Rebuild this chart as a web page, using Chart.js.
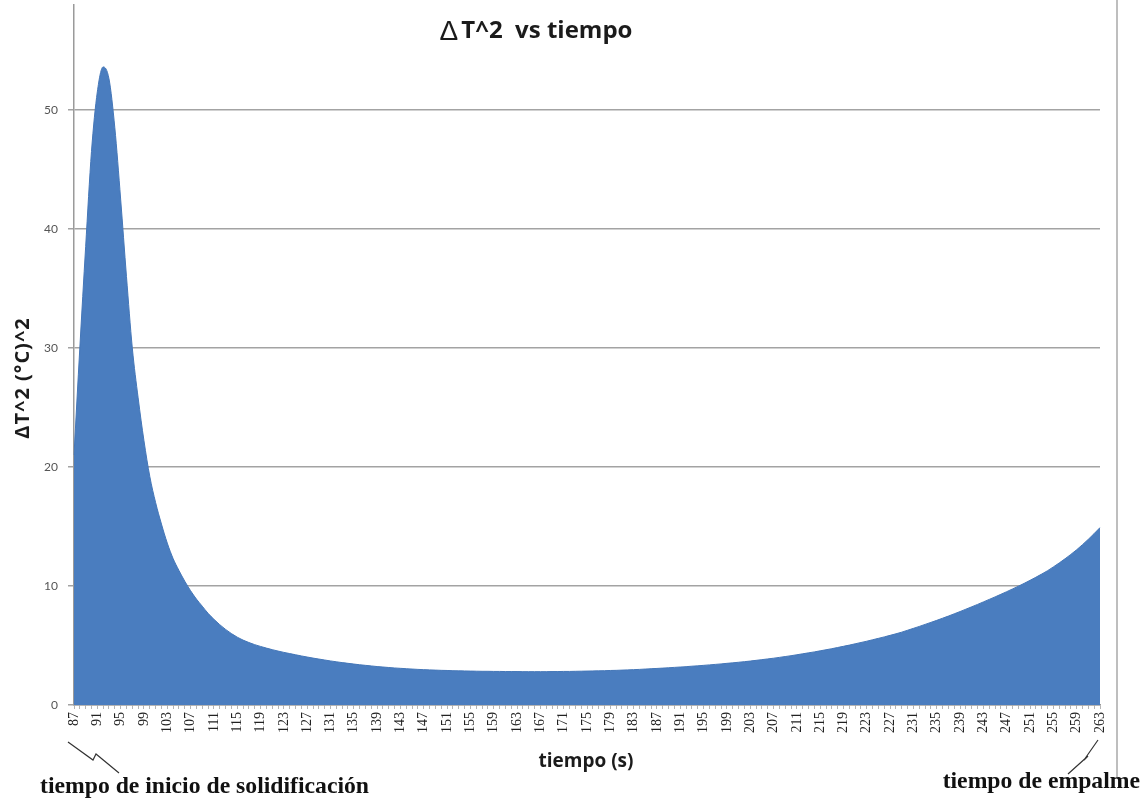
<!DOCTYPE html>
<html lang="es">
<head>
<meta charset="utf-8">
<title>ΔT^2 vs tiempo</title>
<script src="https://cdn.jsdelivr.net/npm/chart.js@4.4.1/dist/chart.umd.min.js"></script>
<style>
  html, body { margin: 0; padding: 0; background: #fff; }
  canvas { display: block; }
</style>
</head>
<body>
<canvas id="grafico" width="1143" height="801"></canvas>
<script>
// tiempo (s), un punto por segundo
const tiempos = [
  87, 88, 89, 90, 91, 92, 93, 94, 95, 96,
  97, 98, 99, 100, 101, 102, 103, 104, 105, 106,
  107, 108, 109, 110, 111, 112, 113, 114, 115, 116,
  117, 118, 119, 120, 121, 122, 123, 124, 125, 126,
  127, 128, 129, 130, 131, 132, 133, 134, 135, 136,
  137, 138, 139, 140, 141, 142, 143, 144, 145, 146,
  147, 148, 149, 150, 151, 152, 153, 154, 155, 156,
  157, 158, 159, 160, 161, 162, 163, 164, 165, 166,
  167, 168, 169, 170, 171, 172, 173, 174, 175, 176,
  177, 178, 179, 180, 181, 182, 183, 184, 185, 186,
  187, 188, 189, 190, 191, 192, 193, 194, 195, 196,
  197, 198, 199, 200, 201, 202, 203, 204, 205, 206,
  207, 208, 209, 210, 211, 212, 213, 214, 215, 216,
  217, 218, 219, 220, 221, 222, 223, 224, 225, 226,
  227, 228, 229, 230, 231, 232, 233, 234, 235, 236,
  237, 238, 239, 240, 241, 242, 243, 244, 245, 246,
  247, 248, 249, 250, 251, 252, 253, 254, 255, 256,
  257, 258, 259, 260, 261, 262, 263
];

// ΔT^2 en (°C)^2
const deltaT2 = [
  21.0, 30.0, 38.5, 46.5, 51.5, 53.6, 52.6, 48.5, 42.5, 36.0,
  30.0, 25.8, 22.2, 19.2, 17.0, 15.2, 13.6, 12.3, 11.3, 10.4,
  9.6, 8.9, 8.3, 7.7, 7.2, 6.75, 6.35, 6.0, 5.7, 5.45,
  5.25, 5.07, 4.92, 4.78, 4.65, 4.53, 4.42, 4.32, 4.22, 4.12,
  4.03, 3.94, 3.86, 3.78, 3.70, 3.63, 3.56, 3.50, 3.44, 3.38,
  3.33, 3.28, 3.23, 3.19, 3.15, 3.11, 3.08, 3.05, 3.02, 2.99,
  2.97, 2.95, 2.93, 2.91, 2.90, 2.88, 2.87, 2.86, 2.85, 2.84,
  2.83, 2.83, 2.82, 2.82, 2.81, 2.81, 2.81, 2.80, 2.80, 2.80,
  2.80, 2.80, 2.81, 2.81, 2.82, 2.82, 2.83, 2.84, 2.85, 2.86,
  2.87, 2.88, 2.90, 2.91, 2.93, 2.95, 2.97, 2.99, 3.02, 3.05,
  3.07, 3.10, 3.13, 3.16, 3.19, 3.22, 3.26, 3.29, 3.33, 3.37,
  3.41, 3.45, 3.50, 3.54, 3.59, 3.64, 3.69, 3.75, 3.81, 3.87,
  3.93, 4.00, 4.07, 4.14, 4.22, 4.30, 4.38, 4.46, 4.55, 4.64,
  4.73, 4.83, 4.93, 5.03, 5.14, 5.25, 5.36, 5.48, 5.60, 5.72,
  5.85, 5.98, 6.12, 6.28, 6.44, 6.60, 6.77, 6.94, 7.11, 7.29,
  7.47, 7.66, 7.85, 8.05, 8.25, 8.45, 8.66, 8.87, 9.08, 9.30,
  9.52, 9.75, 9.98, 10.22, 10.47, 10.73, 11.00, 11.28, 11.60, 11.93,
  12.28, 12.65, 13.04, 13.47, 13.92, 14.40, 14.90
];

// marcas del eje Y
const ticksY = [0, 10, 20, 30, 40, 50];

const titulo = 'T^2  vs tiempo';
const tituloEjeX = 'tiempo (s)';
const tituloEjeY = 'ΔT^2 (°C)^2';
const notaInicio = 'tiempo de inicio de solidificación';
const notaFin = 'tiempo de empalme';

// Título, rótulos de ejes y notas con flecha en zigzag
const rotulos = {
  id: 'rotulos',
  afterDraw(chart){
    const ctx = chart.ctx;
    const x = chart.scales.x;
    const xIni = x.getPixelForTick(0);
    const xFin = x.getPixelForTick(tiempos.length - 1);
    ctx.save();

    // borde derecho del área del gráfico
    ctx.strokeStyle = '#a9a9a9';
    ctx.lineWidth = 1.5;
    ctx.beginPath(); ctx.moveTo(1117, 0); ctx.lineTo(1117, 778); ctx.stroke();

    // título
    ctx.fillStyle = '#1b1b1b';
    ctx.textBaseline = 'middle';
    ctx.textAlign = 'left';
    ctx.font = '28px "Liberation Sans"';
    const wD = ctx.measureText('Δ').width;
    ctx.font = 'bold 24px "Open Sans"';
    const wT = ctx.measureText(titulo).width;
    const x0 = 536 - (wD + 3 + wT) / 2;
    ctx.font = '28px "Liberation Sans"';
    ctx.fillText('Δ', x0, 32);
    ctx.font = 'bold 24px "Open Sans"';
    ctx.fillText(titulo, x0 + wD + 3, 31);

    // título eje Y
    ctx.save();
    ctx.translate(23, 378);
    ctx.rotate(-Math.PI / 2);
    ctx.textAlign = 'center';
    ctx.font = 'bold 20px "Open Sans"';
    ctx.letterSpacing = '1px';
    ctx.fillText(tituloEjeY, 0, 0);
    ctx.restore();

    // título eje X
    ctx.textAlign = 'center';
    ctx.font = 'bold 19px "Open Sans"';
    ctx.fillText(tituloEjeX, 586, 762);

    // notas
    ctx.fillStyle = '#111';
    ctx.font = 'bold 23.7px "Liberation Serif"';
    ctx.textAlign = 'left';
    ctx.fillText(notaInicio, 40, 787);
    ctx.textAlign = 'right';
    ctx.fillText(notaFin, 1140, 782);

    // flechas en zigzag
    ctx.strokeStyle = '#333';
    ctx.lineWidth = 1.2;
    ctx.beginPath();
    ctx.moveTo(xIni - 6, 742);
    ctx.lineTo(xIni + 19, 760);
    ctx.lineTo(xIni + 22, 754);
    ctx.lineTo(xIni + 45, 773);
    ctx.moveTo(xFin - 2, 740);
    ctx.lineTo(xFin - 16, 760);
    ctx.lineTo(xFin - 12, 756);
    ctx.lineTo(xFin - 32, 774);
    ctx.stroke();

    ctx.restore();
  }
};

new Chart(document.getElementById('grafico'), {
  type: 'line',
  data: {
    labels: tiempos,
    datasets: [{
      data: deltaT2,
      fill: 'origin',
      backgroundColor: '#4a7dbf',
      borderColor: '#4577b8',
      borderWidth: 1,
      pointRadius: 0,
      cubicInterpolationMode: 'monotone'
    }]
  },
  options: {
    responsive: false,
    animation: false,
    devicePixelRatio: 1,
    layout: { padding: { top: 5, right: 43, bottom: 0, left: 0 } },
    plugins: {
      legend: { display: false },
      title: { display: false },
      tooltip: { enabled: false }
    },
    scales: {
      x: {
        type: 'category',
        offset: false,
        afterFit: s => { s.height = 96; },
        grid: { drawOnChartArea: false, tickLength: 4, color: '#b5b5b5' },
        border: { color: '#9a9a9a', width: 1.5 },
        ticks: {
          autoSkip: false,
          minRotation: 90,
          maxRotation: 90,
          padding: 3,
          color: '#222',
          font: { family: 'Liberation Serif', size: 14 },
          callback: (v, i) => (i % 4 === 0 ? tiempos[i] : '')
        }
      },
      y: {
        min: 0,
        max: 58.8,
        afterFit: s => { s.width = 74; s.paddingTop = 0; s.paddingBottom = 0; },
        afterBuildTicks: s => { s.ticks = ticksY.map(v => ({ value: v })); },
        grid: { color: '#a3a3a3', lineWidth: 1.5, tickLength: 6 },
        border: { color: '#9a9a9a', width: 1.5 },
        ticks: {
          padding: 10,
          color: '#555',
          font: { family: 'Lato', size: 12 }
        }
      }
    }
  },
  plugins: [rotulos]
});
</script>
</body>
</html>
